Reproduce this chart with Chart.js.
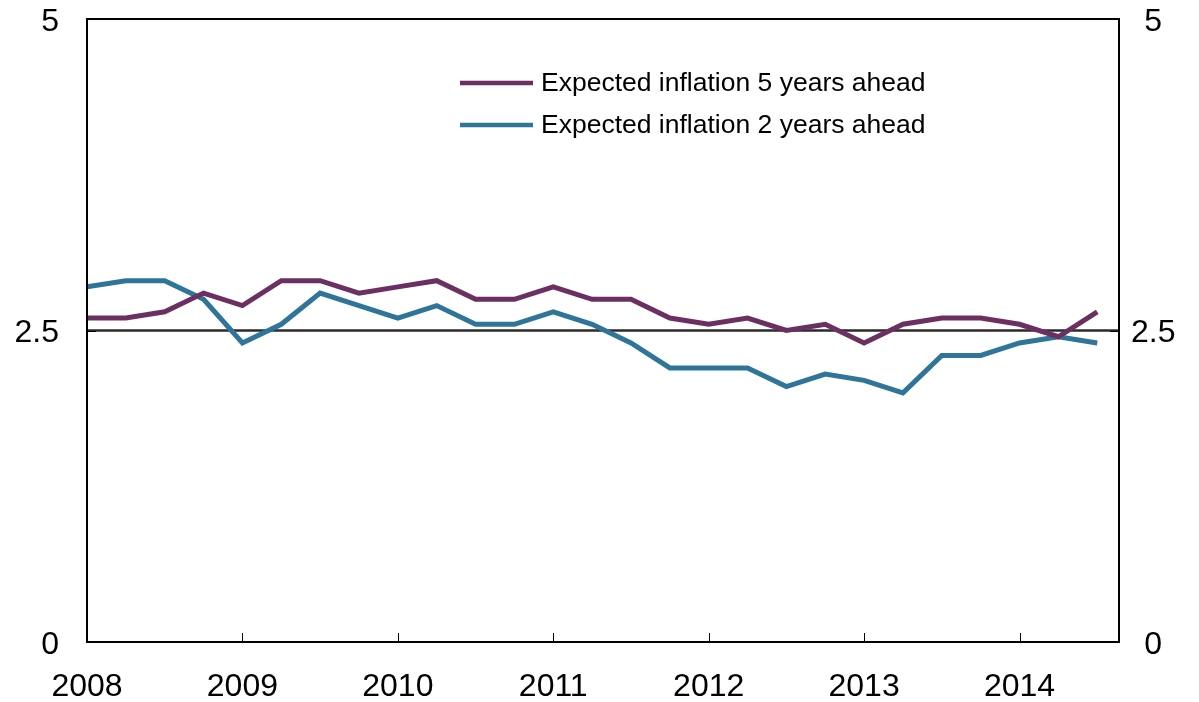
<!DOCTYPE html>
<html>
<head>
<meta charset="utf-8">
<script src="https://cdn.jsdelivr.net/npm/chart.js@4"></script>
<style>
  html, body { margin: 0; padding: 0; background: #fff; }
  #wrap { width: 1199px; height: 702px; }
</style>
</head>
<body>
<div id="wrap"><canvas id="chart" width="1199" height="702"></canvas></div>
<script>
// quarterly observations, 2008 Q1 .. 2014 Q3
const quarters = [];
for (let y = 2008; y <= 2014; y++) {
  for (let q = 0; q < 4; q++) quarters.push(y + q * 0.25);
}
const dates = quarters.slice(0, 27);

const fiveYears = [2.6, 2.6, 2.65, 2.8, 2.7, 2.9, 2.9, 2.8, 2.85, 2.9, 2.75, 2.75, 2.85, 2.75,
  2.75, 2.6, 2.55, 2.6, 2.5, 2.55, 2.4, 2.55, 2.6, 2.6, 2.55, 2.45, 2.65];
const twoYears = [2.85, 2.9, 2.9, 2.75, 2.4, 2.55, 2.8, 2.7, 2.6, 2.7, 2.55, 2.55, 2.65, 2.55,
  2.4, 2.2, 2.2, 2.2, 2.05, 2.15, 2.1, 2.0, 2.3, 2.3, 2.4, 2.45, 2.4];

const seriesNames = ['Expected inflation 5 years ahead', 'Expected inflation 2 years ahead'];
const seriesColors = ['#6b2f62', '#2e7599'];
const yTicks = [0, 2.5, 5];
const targetLevel = 2.5;

const FONT = '"Liberation Sans", Arial, Helvetica, sans-serif';

const toPoints = vals => vals.map((v, i) => ({ x: dates[i], y: v }));

// frame, inside tick marks, target line and legend
const decorations = {
  id: 'decorations',
  beforeDatasetsDraw(chart) {
    const { ctx, chartArea: a, scales } = chart;
    ctx.save();
    const yp = scales.y.getPixelForValue(targetLevel);
    ctx.strokeStyle = '#2a2a2a';
    ctx.lineWidth = 2.5;
    ctx.beginPath();
    ctx.moveTo(a.left, yp);
    ctx.lineTo(a.right, yp);
    ctx.stroke();
    ctx.restore();
  },
  afterDatasetsDraw(chart) {
    const { ctx, chartArea: a, scales } = chart;
    ctx.save();
    ctx.strokeStyle = '#000';
    ctx.lineWidth = 2;
    ctx.strokeRect(a.left, a.top, a.right - a.left, a.bottom - a.top);

    ctx.lineWidth = 1;
    scales.x.ticks.forEach(t => {
      const px = Math.round(scales.x.getPixelForValue(t.value)) + 0.5;
      ctx.beginPath();
      ctx.moveTo(px, a.bottom);
      ctx.lineTo(px, a.bottom - 9);
      ctx.stroke();
    });
    yTicks.forEach(v => {
      const py = Math.round(scales.y.getPixelForValue(v)) + 0.5;
      ctx.beginPath();
      ctx.moveTo(a.left, py);
      ctx.lineTo(a.left + 9, py);
      ctx.moveTo(a.right, py);
      ctx.lineTo(a.right - 9, py);
      ctx.stroke();
    });

    // legend
    ctx.font = '26.5px ' + FONT;
    ctx.textBaseline = 'middle';
    ctx.fillStyle = '#000';
    seriesNames.forEach((name, i) => {
      const y = 83 + i * 42;
      ctx.strokeStyle = seriesColors[i];
      ctx.lineWidth = 4.5;
      ctx.beginPath();
      ctx.moveTo(460, y);
      ctx.lineTo(533, y);
      ctx.stroke();
      ctx.fillText(name, 541, y + 1);
    });
    ctx.restore();
  }
};

const noPad = s => { s.paddingTop = 0; s.paddingBottom = 0; s.paddingLeft = 0; s.paddingRight = 0; };

new Chart(document.getElementById('chart'), {
  type: 'line',
  data: {
    datasets: [
      { label: seriesNames[0], data: toPoints(fiveYears), borderColor: seriesColors[0] },
      { label: seriesNames[1], data: toPoints(twoYears), borderColor: seriesColors[1] }
    ]
  },
  options: {
    responsive: false,
    animation: false,
    devicePixelRatio: 1,
    layout: { padding: { top: 19, left: 0, right: 0, bottom: 0 } },
    elements: {
      line: { borderWidth: 5, tension: 0, borderCapStyle: 'butt', borderJoinStyle: 'miter' },
      point: { radius: 0 }
    },
    plugins: { legend: { display: false }, tooltip: { enabled: false } },
    scales: {
      x: {
        type: 'linear',
        min: 2008,
        max: 2014.64,
        afterFit: s => { s.height = 60; noPad(s); },
        grid: { display: false },
        border: { display: false },
        ticks: {
          stepSize: 1,
          includeBounds: false,
          maxRotation: 0,
          padding: 18,
          color: '#000',
          font: { family: FONT, size: 32 },
          callback: v => String(v)
        }
      },
      y: {
        min: 0,
        max: 5,
        position: 'left',
        afterFit: s => { s.width = 87; noPad(s); },
        afterBuildTicks: s => { s.ticks = yTicks.map(v => ({ value: v })); },
        grid: { display: false },
        border: { display: false },
        ticks: {
          padding: 20,
          labelOffset: 3,
          color: '#000',
          font: { family: FONT, size: 32 },
          callback: v => String(v)
        }
      },
      y2: {
        min: 0,
        max: 5,
        position: 'right',
        afterFit: s => { s.width = 80; noPad(s); },
        afterBuildTicks: s => { s.ticks = yTicks.map(v => ({ value: v })); },
        grid: { display: false },
        border: { display: false },
        ticks: {
          padding: 4,
          labelOffset: 3,
          crossAlign: 'center',
          color: '#000',
          font: { family: FONT, size: 32 },
          callback: v => String(v)
        }
      }
    }
  },
  plugins: [decorations]
});
</script>
</body>
</html>
